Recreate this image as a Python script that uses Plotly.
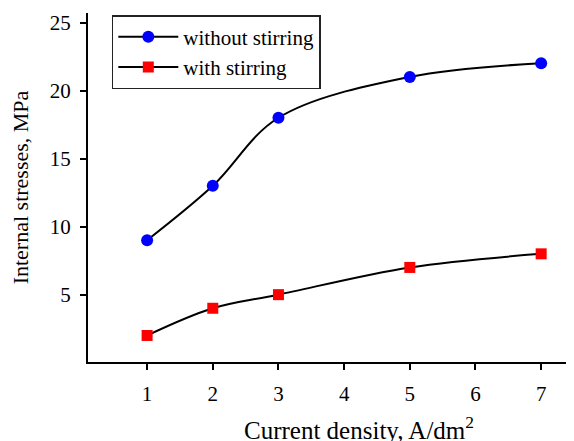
import plotly.graph_objects as go

current_density = [1, 2, 3, 5, 7]
stress_without = [9, 13, 18, 21, 22]
stress_with = [2, 4, 5, 7, 8]
x_ticks = [1, 2, 3, 4, 5, 6, 7]
y_ticks = [5, 10, 15, 20, 25]

font_family = "Liberation Serif, Times New Roman, serif"

fig = go.Figure()
fig.add_trace(go.Scatter(
    x=current_density, y=stress_without, name="without stirring",
    mode="lines+markers",
    line=dict(color="black", width=2, shape="spline", smoothing=1.0),
    marker=dict(symbol="circle", size=12, color="#0000ff"),
))
fig.add_trace(go.Scatter(
    x=current_density, y=stress_with, name="with stirring",
    mode="lines+markers",
    line=dict(color="black", width=2, shape="spline", smoothing=1.0),
    marker=dict(symbol="square", size=11, color="#ff0000"),
))

# page body has an 8px default margin; figure is sized to compensate
fig.update_layout(
    width=566, height=433,
    margin=dict(l=80, r=0, t=5, b=79),
    paper_bgcolor="white", plot_bgcolor="white",
    font=dict(family=font_family, size=21, color="black"),
    showlegend=True,
    legend=dict(
        x=0.049, y=0.994, xanchor="left", yanchor="top",
        bordercolor="#222222", borderwidth=1.5, bgcolor="white",
        font=dict(family=font_family, size=21),
        itemwidth=60, tracegroupgap=0,
        entrywidth=203, entrywidthmode="pixels",
    ),
    xaxis=dict(
        range=[0.1, 7.5], tickvals=x_ticks, showgrid=False, zeroline=False,
        showline=True, linecolor="black", linewidth=2,
        ticks="outside", ticklen=6, tickwidth=1.5, tickcolor="black",
        tickfont=dict(size=21), ticklabelstandoff=6,
    ),
    yaxis=dict(
        range=[0.05, 25.7], tickvals=y_ticks, showgrid=False, zeroline=False,
        showline=True, linecolor="black", linewidth=2,
        ticks="outside", ticklen=6, tickwidth=1.5, tickcolor="black",
        tickfont=dict(size=21), ticklabelstandoff=5,
        title=dict(text="Internal stresses, MPa", font=dict(size=22), standoff=15),
    ),
    annotations=[dict(
        text="Current density, A/dm<sup>2</sup>",
        xref="paper", yref="paper", x=0.558, y=-0.19,
        xanchor="center", yanchor="middle", showarrow=False,
        font=dict(family=font_family, size=25, color="black"),
    )],
)

fig.write_html("out.html")
